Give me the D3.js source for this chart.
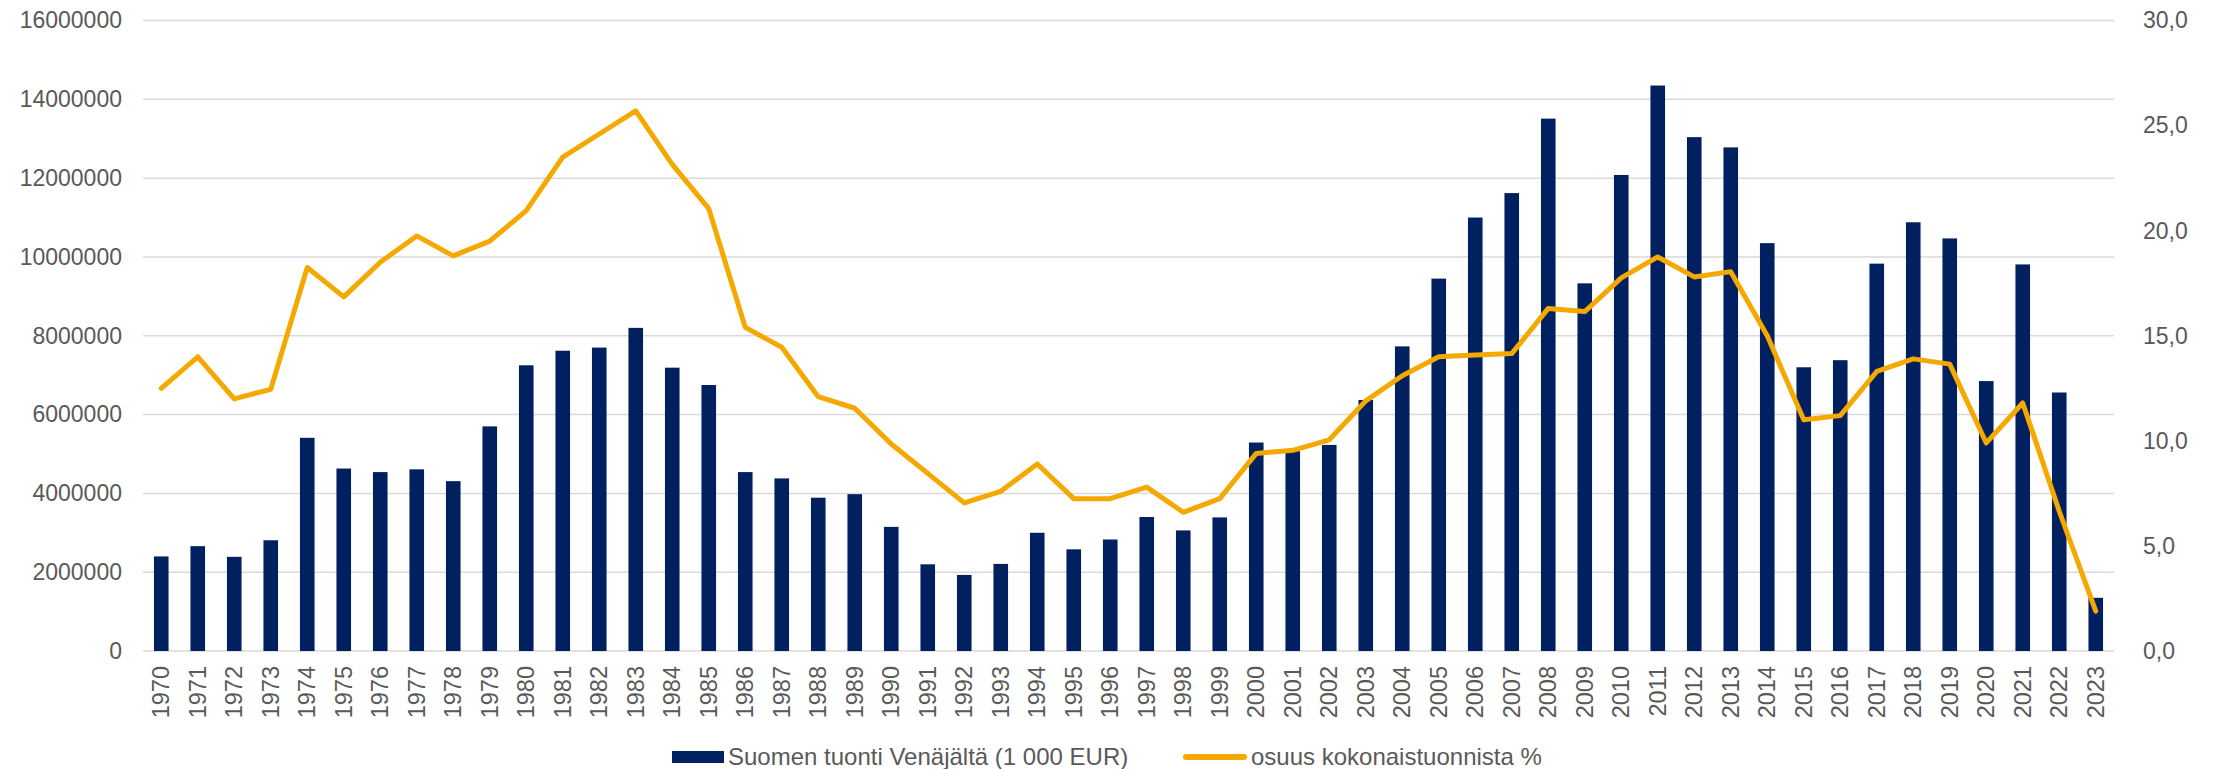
<!DOCTYPE html>
<html>

<head>
    <meta charset="UTF-8">
    <script src="https://d3js.org/d3.v7.min.js"></script>
    <title>Suomen tuonti Venäjältä</title>
    <style>
        body { margin: 0; background: #fff; }
        text { font-family: "Liberation Sans", Arial, sans-serif; fill: #595959; }
    </style>
</head>

<body>
    <svg id="chart" width="2218" height="769"></svg>

    <script>
        // vuodet
        const vuodet = d3.range(1970, 2024).map(String);

        // tuonti Venäjältä, 1 000 EUR (luettu kuvasta)
        const tuonti = [
            2400000, 2660000, 2390000, 2810000, 5410000, 4630000, 4540000, 4610000, 4310000, 5700000,
            7250000, 7620000, 7700000, 8200000, 7190000, 6750000, 4540000, 4380000, 3890000, 3980000,
            3150000, 2200000, 1930000, 2210000, 3000000, 2580000, 2830000, 3400000, 3060000, 3390000,
            5290000, 5070000, 5230000, 6370000, 7730000, 9450000, 11000000, 11620000, 13510000, 9330000,
            12080000, 14350000, 13040000, 12780000, 10350000, 7200000, 7380000, 9830000, 10880000, 10470000,
            6850000, 9810000, 6560000, 1350000
        ];

        // osuus kokonaistuonnista %
        const osuus = [
            12.5, 14.0, 12.0, 12.45, 18.25, 16.85, 18.5, 19.75, 18.8, 19.5,
            20.95, 23.5, 24.6, 25.7, 23.15, 21.05, 15.4, 14.45, 12.1, 11.55,
            9.85, 8.45, 7.05, 7.6, 8.9, 7.25, 7.25, 7.8, 6.6, 7.25,
            9.4, 9.55, 10.05, 11.9, 13.1, 14.0, 14.08, 14.15, 16.3, 16.15,
            17.75, 18.75, 17.8, 18.05, 15.0, 11.0, 11.2, 13.3, 13.9, 13.65,
            9.9, 11.8, 6.65, 1.9
        ];

        const vasenTicks = d3.range(0, 16000001, 2000000);
        const oikeaTicks = d3.range(0, 31, 5);
        const sarjat = ["Suomen tuonti Venäjältä (1 000 EUR)", "osuus kokonaistuonnista %"];

        const svg = d3.select('#chart');
        const vasenReuna = 143, oikeaReuna = 2114, ylaReuna = 20.5, alaReuna = 651;

        const x = d3.scaleBand().domain(vuodet).range([vasenReuna, oikeaReuna]).paddingInner(0.6).paddingOuter(0.3);
        const y = d3.scaleLinear().domain([0, 16000000]).range([alaReuna, ylaReuna]);
        const y2 = d3.scaleLinear().domain([0, 30]).range([alaReuna, ylaReuna]);

        // ruudukko
        svg.append('g')
            .selectAll('line')
            .data(vasenTicks)
            .join('line')
            .attr('x1', vasenReuna).attr('x2', oikeaReuna)
            .attr('y1', d => y(d)).attr('y2', d => y(d))
            .style('stroke', '#d9d9d9')
            .style('stroke-width', 1.5);

        // vasen akseli
        const vasen = svg.append('g')
            .attr('transform', `translate(${vasenReuna - 21},0)`)
            .call(d3.axisLeft(y).tickValues(vasenTicks).tickFormat(d3.format('d')).tickSize(0).tickPadding(0));
        vasen.select('.domain').remove();
        vasen.selectAll('text').style('font-size', '23px').attr('fill', null);
        vasen.attr('font-family', null).attr('font-size', null);

        // oikea akseli
        const oikea = svg.append('g')
            .attr('transform', `translate(${oikeaReuna + 29},0)`)
            .call(d3.axisRight(y2).tickValues(oikeaTicks).tickFormat(d => d3.format('.1f')(d).replace('.', ',')).tickSize(0).tickPadding(0));
        oikea.select('.domain').remove();
        oikea.selectAll('text').style('font-size', '23px').attr('fill', null);
        oikea.attr('font-family', null).attr('font-size', null);

        // pylväät
        svg.append('g')
            .selectAll('rect')
            .data(tuonti)
            .join('rect')
            .attr('x', (d, i) => x(vuodet[i]))
            .attr('width', x.bandwidth())
            .attr('y', d => y(d))
            .attr('height', d => alaReuna - y(d))
            .style('fill', '#002060');

        // viiva
        const viiva = d3.line()
            .x((d, i) => x(vuodet[i]) + x.bandwidth() / 2)
            .y(d => y2(d));
        svg.append('path')
            .datum(osuus)
            .attr('d', viiva)
            .style('fill', 'none')
            .style('stroke', '#f5a800')
            .style('stroke-width', 5)
            .style('stroke-linejoin', 'round')
            .style('stroke-linecap', 'round');

        // x-akselin selitteet
        svg.append('g')
            .selectAll('text')
            .data(vuodet)
            .join('text')
            .attr('transform', d => `translate(${x(d) + x.bandwidth() / 2 + 8},${alaReuna + 15}) rotate(-90)`)
            .attr('text-anchor', 'end')
            .style('font-size', '23.5px')
            .text(d => d);

        // selite
        const selite = svg.append('g');
        selite.append('rect')
            .attr('x', 672).attr('y', 751).attr('width', 52).attr('height', 12)
            .style('fill', '#002060');
        selite.append('text')
            .attr('x', 728).attr('y', 765)
            .style('font-size', '24px')
            .text(sarjat[0]);
        selite.append('line')
            .attr('x1', 1186).attr('x2', 1244).attr('y1', 757).attr('y2', 757)
            .style('stroke', '#f5a800').style('stroke-width', 6).style('stroke-linecap', 'round');
        selite.append('text')
            .attr('x', 1251).attr('y', 765)
            .style('font-size', '24px')
            .text(sarjat[1]);
    </script>
</body>

</html>
